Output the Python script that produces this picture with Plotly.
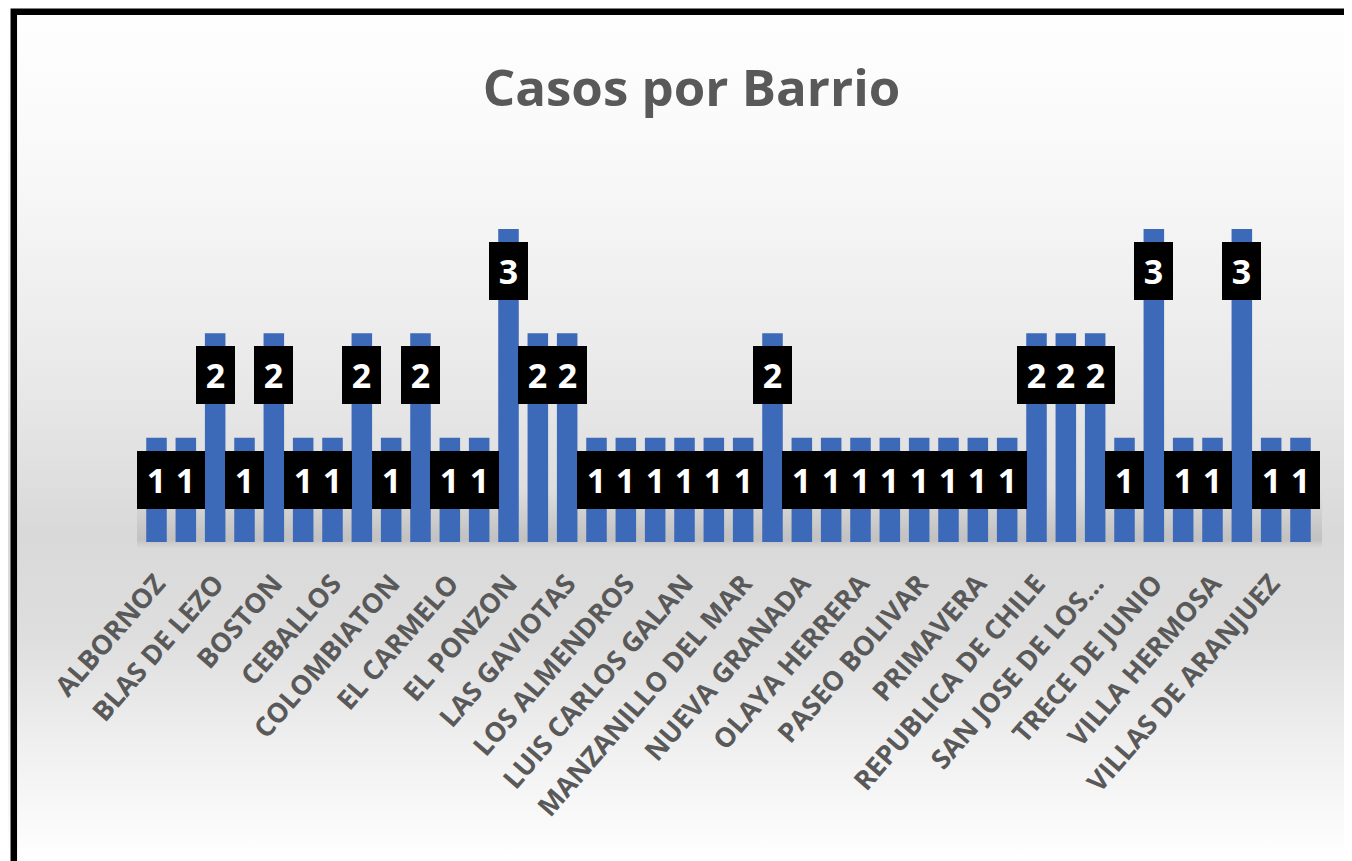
import base64
import plotly.graph_objects as go

# ---------------- data ----------------
barrios = [
    "ALBORNOZ", "ALTO BOSQUE", "BLAS DE LEZO", "BOCAGRANDE", "BOSTON",
    "BRUSELAS", "CEBALLOS", "CHIQUINQUIRA", "COLOMBIATON", "EL BOSQUE",
    "EL CARMELO", "EL LIBANO", "EL PONZON", "ESCALLON VILLA", "LAS GAVIOTAS",
    "LO AMADOR", "LOS ALMENDROS", "LOS CARACOLES", "LUIS CARLOS GALAN", "MANGA",
    "MANZANILLO DEL MAR", "NELSON MANDELA", "NUEVA GRANADA", "NUEVO BOSQUE", "OLAYA HERRERA",
    "PASACABALLOS", "PASEO BOLIVAR", "PIE DE LA POPA", "PRIMAVERA", "PUERTA DE HIERRO",
    "REPUBLICA DE CHILE", "SAN FERNANDO", "SAN JOSE DE LOS CAMPANOS", "SANTA RITA", "TRECE DE JUNIO",
    "VILLA ESTRELLA", "VILLA HERMOSA", "VILLA ROSITA", "VILLAS DE ARANJUEZ", "ZARAGOCILLA",
]
casos = [
    1, 1, 2, 1, 2, 1, 1, 2, 1, 2,
    1, 1, 3, 2, 2, 1, 1, 1, 1, 1,
    1, 2, 1, 1, 1, 1, 1, 1, 1, 1,
    2, 2, 2, 1, 3, 1, 1, 3, 1, 1,
]
tick_barrios = barrios[::2]
tick_labels = [
    "ALBORNOZ", "BLAS DE LEZO", "BOSTON", "CEBALLOS", "COLOMBIATON",
    "EL CARMELO", "EL PONZON", "LAS GAVIOTAS", "LOS ALMENDROS", "LUIS CARLOS GALAN",
    "MANZANILLO DEL MAR", "NUEVA GRANADA", "OLAYA HERRERA", "PASEO BOLIVAR", "PRIMAVERA",
    "REPUBLICA DE CHILE", "SAN JOSE DE LOS...", "TRECE DE JUNIO", "VILLA HERMOSA", "VILLAS DE ARANJUEZ",
]
title_text = "Casos por Barrio"

# ---------------- layout geometry ----------------
PAGE_W, PAGE_H = 1352, 861
OFF = 8                      # default body margin of the html page
W, H = PAGE_W - OFF, PAGE_H - OFF
# plot area in page pixels
PL, PR = 137.2, 1320.1
PT, PB = 229.3, 541.7
# converted to figure pixels
FL, FR, FT, FB = PL - OFF, PR - OFF, PT - OFF, PB - OFF

def px_x(page_x):
    return (page_x - OFF - FL) / (FR - FL)

def px_y(page_y):
    return (FB - (page_y - OFF)) / (FB - FT)

# background gradient (svg data uri, page coordinates)
svg = f"""<svg xmlns='http://www.w3.org/2000/svg' width='{PAGE_W}' height='{PAGE_H}' viewBox='0 0 {PAGE_W} {PAGE_H}' preserveAspectRatio='none'>
<defs>
<linearGradient id='g' x1='0' y1='0' x2='0' y2='1'>
<stop offset='0' stop-color='#ffffff'/>
<stop offset='0.2' stop-color='#f8f8f8'/>
<stop offset='0.45' stop-color='#e8e8e8'/>
<stop offset='0.62' stop-color='#d9d9d9'/>
<stop offset='0.74' stop-color='#dedede'/>
<stop offset='0.86' stop-color='#efefef'/>
<stop offset='1' stop-color='#ffffff'/>
</linearGradient>
<linearGradient id='s' x1='0' y1='0' x2='0' y2='1'>
<stop offset='0' stop-color='#000' stop-opacity='0'/>
<stop offset='0.85' stop-color='#000' stop-opacity='0.11'/>
<stop offset='1' stop-color='#000' stop-opacity='0'/>
</linearGradient>
</defs>
<rect x='0' y='0' width='{PAGE_W}' height='{PAGE_H}' fill='url(#g)'/>
<rect x='{PL:.1f}' y='490' width='{PR - PL + 2:.1f}' height='58' fill='url(#s)'/>
</svg>"""
bg_uri = "data:image/svg+xml;base64," + base64.b64encode(svg.encode()).decode()

fig = go.Figure()
fig.add_trace(go.Bar(
    x=barrios, y=casos,
    marker=dict(color="#3D69B9", line=dict(width=0)),
    hoverinfo="x+y",
))

annotations = []
for b, v in zip(barrios, casos):
    annotations.append(dict(
        x=b, y=v, xref="x", yref="y",
        text=f"<b>{v}</b>", showarrow=False,
        yanchor="top", xanchor="center", yshift=-13,
        width=39, height=58, bgcolor="black", borderpad=0, borderwidth=0,
        align="center", valign="middle",
        font=dict(family="Open Sans, sans-serif", size=34, color="white"),
    ))

fig.update_layout(
    width=W, height=H,
    margin=dict(l=FL, r=W - FR, t=FT, b=H - FB, pad=0),
    paper_bgcolor="white", plot_bgcolor="rgba(0,0,0,0)",
    showlegend=False,
    bargap=0.3,
    title=dict(
        text=f"<b>{title_text}</b>",
        x=(691.5 - OFF) / W, xanchor="center", xref="container",
        y=1 - (88 - OFF) / H, yanchor="middle", yref="container",
        font=dict(family="Open Sans, sans-serif", size=51, color="#595959"),
    ),
    xaxis=dict(
        type="category", automargin=False, showgrid=False, zeroline=False, showline=False,
        tickmode="array", tickvals=tick_barrios, ticktext=[f"<b>{t}</b>" for t in tick_labels],
        tickangle=-49, ticks="outside", ticklen=14, tickcolor="rgba(0,0,0,0)",
        tickfont=dict(family="Open Sans, sans-serif", size=27, color="#595959"),
    ),
    yaxis=dict(range=[0, 3], visible=False, automargin=False, fixedrange=True),
    annotations=annotations,
    images=[dict(
        source=bg_uri, xref="paper", yref="paper",
        x=px_x(0), y=px_y(0), sizex=px_x(PAGE_W) - px_x(0), sizey=px_y(0) - px_y(PAGE_H),
        xanchor="left", yanchor="top", sizing="stretch", layer="below",
    )],
    shapes=[dict(
        type="rect", xref="paper", yref="paper",
        x0=px_x(14), x1=px_x(PAGE_W + 40), y0=px_y(12.5), y1=px_y(PAGE_H + 40),
        line=dict(color="black", width=6.5), fillcolor="rgba(0,0,0,0)", layer="above",
    )],
)

fig.write_html("out.html")
